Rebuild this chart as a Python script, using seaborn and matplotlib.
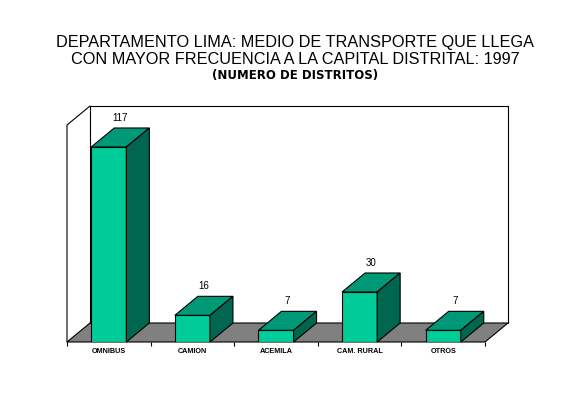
import matplotlib
matplotlib.use("Agg")
import matplotlib.pyplot as plt
import seaborn as sns
import pandas as pd
from matplotlib.patches import Polygon

categories = ["OMNIBUS", "CAMION", "ACEMILA", "CAM. RURAL", "OTROS"]
values = [117, 16, 7, 30, 7]
title_lines = ["DEPARTAMENTO LIMA: MEDIO DE TRANSPORTE QUE LLEGA",
               "CON MAYOR FRECUENCIA A LA CAPITAL DISTRITAL: 1997"]
subtitle = "(NUMERO DE DISTRITOS)"

sns.set_theme(style="white")
plt.rcParams['font.family'] = ['Liberation Sans', 'DejaVu Sans']
plt.rcParams['text.color'] = 'black'
plt.rcParams['xtick.color'] = 'black'

W, H = 566, 393
fig = plt.figure(figsize=(W / 100, H / 100), dpi=100)
fig.patch.set_facecolor("white")

# axes area in pixel coords: x 67..508, y 106..342 (from top)
x0, x1, ytop, ybot = 67, 508, 106, 342
ax = fig.add_axes([x0 / W, (H - ybot) / H, (x1 - x0) / W, (ybot - ytop) / H])

n = len(categories)
px_per_cat = (485 - 67) / n
px_per_unit = 195 / 117
dx = 23 / px_per_cat
dy = 19 / px_per_unit
ytop_val = (ybot - ytop) / px_per_unit

front = "#00CC99"
topc = "#009977"
sidec = "#006650"
lw = 0.8

df = pd.DataFrame({"cat": categories, "val": values})
sns.barplot(data=df, x="cat", y="val", width=0.42, color=front, saturation=1,
            edgecolor="black", linewidth=lw, ax=ax, zorder=2)
bars = list(ax.patches)

ax.set_xlim(-0.5, n - 0.5 + dx)
ax.set_ylim(0, ytop_val)

# floor
floor = Polygon([(-0.5, 0), (n - 0.5, 0), (n - 0.5 + dx, dy), (-0.5 + dx, dy)],
                closed=True, facecolor="#808080", edgecolor="black", lw=lw, zorder=0.5, clip_on=False)
ax.add_patch(floor)
# back wall and left wall
ax.plot([-0.5 + dx, -0.5 + dx, n - 0.5 + dx, n - 0.5 + dx], [dy, ytop_val, ytop_val, dy],
        color="black", lw=lw, zorder=0.6, clip_on=False)
ax.plot([-0.5, -0.5, -0.5 + dx], [0, ytop_val - dy, ytop_val],
        color="black", lw=lw, zorder=0.6, clip_on=False)

for p, v in zip(bars, values):
    x, w, h = p.get_x(), p.get_width(), p.get_height()
    top = Polygon([(x, h), (x + w, h), (x + w + dx, h + dy), (x + dx, h + dy)],
                  closed=True, facecolor=topc, edgecolor="black", lw=lw, zorder=3, clip_on=False)
    side = Polygon([(x + w, 0), (x + w + dx, dy), (x + w + dx, h + dy), (x + w, h)],
                   closed=True, facecolor=sidec, edgecolor="black", lw=lw, zorder=3, clip_on=False)
    ax.add_patch(top)
    ax.add_patch(side)
    ax.text(x + w / 2 + dx / 2, h + dy + 3, str(v), ha="center", va="bottom",
            fontsize=7, zorder=4, clip_on=False)

ax.set_xlim(-0.5, n - 0.5 + dx)
ax.set_ylim(0, ytop_val)

for s in ax.spines.values():
    s.set_visible(False)
ax.set_yticks([])
ax.set_xlabel("")
ax.set_ylabel("")
ax.set_xticks(range(n))
ax.set_xticklabels(categories, fontsize=5.2, fontweight="bold")
ax.set_xticks([i - 0.5 for i in range(n + 1)], minor=True)
ax.tick_params(axis="x", which="major", length=0, pad=4)
ax.tick_params(axis="x", which="minor", length=3, width=0.8, color="black", direction="out", bottom=True)
ax.set_facecolor("white")

fig.text(0.521, 1 - 42 / H, title_lines[0], ha="center", va="center", fontsize=11.7)
fig.text(0.521, 1 - 59 / H, title_lines[1], ha="center", va="center", fontsize=11.7)
fig.text(0.521, 1 - 75 / H, subtitle, ha="center", va="center", fontsize=8.5,
         fontweight="bold", family=["DejaVu Sans"])

fig.savefig("out.png", dpi=100, facecolor="white")
